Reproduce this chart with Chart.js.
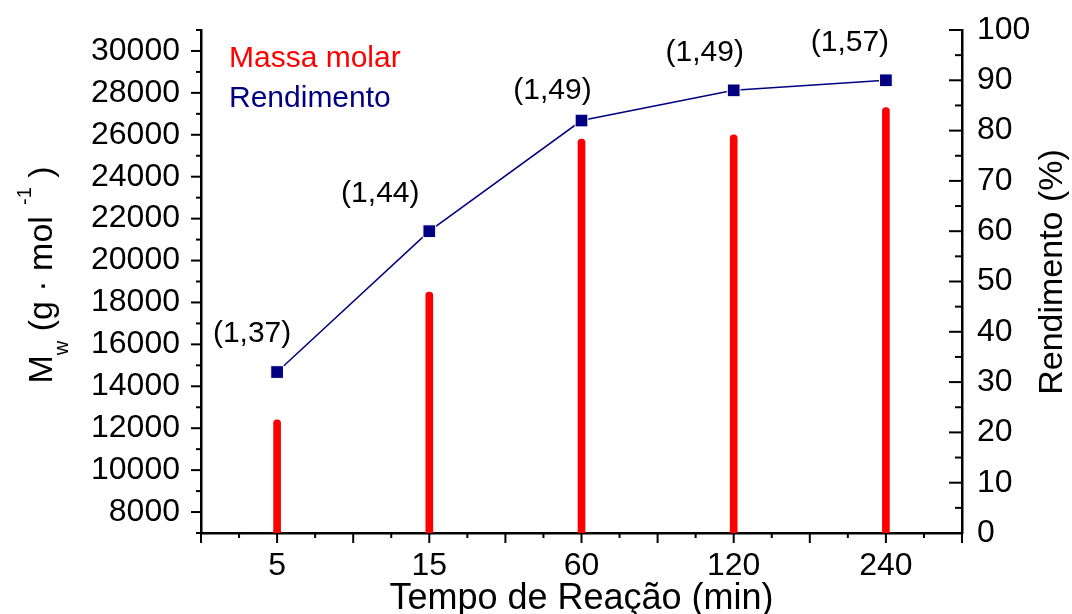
<!DOCTYPE html>
<html>
<head>
<meta charset="utf-8">
<script src="https://cdn.jsdelivr.net/npm/chart.js@4.4.1/dist/chart.umd.min.js"></script>
<style>
  html, body { margin: 0; padding: 0; background: #fff; }
  #box { width: 1072px; height: 614px; position: relative; }
</style>
</head>
<body>
<div id="box"><canvas id="grafico"></canvas></div>
<script>
// dados
const tempos = ['5', '15', '60', '120', '240'];            // min
const massaMolar = [12400, 18500, 25800, 26000, 27300];     // Mw (g/mol)
const rendimento = [32, 60, 82, 88, 90];                    // %
const dispersidade = ['(1,37)', '(1,44)', '(1,49)', '(1,49)', '(1,57)'];
const ticksMw = [8000, 10000, 12000, 14000, 16000, 18000, 20000, 22000, 24000, 26000, 28000, 30000];
const ticksRend = [0, 10, 20, 30, 40, 50, 60, 70, 80, 90, 100];

// deslocamento dos rótulos de dispersidade em relação ao ponto
const rotDx = [-25, -49, -29, -29, -36];
const rotDy = [-30, -29, -22, -29, -29];

const FONTE = "'Liberation Sans', Arial, sans-serif";
const VERMELHO = '#ff0000';
const AZUL = '#000080';

Chart.defaults.font.family = FONTE;
Chart.defaults.color = '#000';

function marcas(ctx, scale, passo, grande, pequeno, lado) {
  const a = scale.chart.chartArea;
  ctx.save();
  ctx.strokeStyle = '#000';
  ctx.lineWidth = 2;
  for (let v = scale.min; v <= scale.max + 1e-9; v += passo) {
    const maior = Math.abs(v / (passo * 2) - Math.round(v / (passo * 2))) < 1e-6;
    const len = maior ? grande : pequeno;
    const p = scale.getPixelForValue(v);
    ctx.beginPath();
    if (lado === 'esq') { ctx.moveTo(a.left - len, p); ctx.lineTo(a.left, p); }
    else if (lado === 'dir') { ctx.moveTo(a.right - len, p); ctx.lineTo(a.right, p); }
    else { ctx.moveTo(p, a.bottom); ctx.lineTo(p, a.bottom + len); }
    ctx.stroke();
  }
  ctx.restore();
}

// texto com partes em índice / expoente
function textoRico(ctx, partes) {
  let total = 0;
  partes.forEach(p => {
    ctx.font = p.size + 'px ' + FONTE;
    p.w = ctx.measureText(p.t).width;
    total += p.w;
  });
  let x = -total / 2;
  partes.forEach(p => {
    ctx.font = p.size + 'px ' + FONTE;
    ctx.fillText(p.t, x, p.dy || 0);
    x += p.w;
  });
}

// sem folga extra dos rótulos: a área do gráfico fica onde o layout manda
function semFolga(s) {
  s.paddingTop = 0;
  s.paddingBottom = 0;
  s.paddingLeft = 0;
  s.paddingRight = 0;
}

const extras = {
  id: 'extras',
  afterDraw(chart) {
    const ctx = chart.ctx;
    const a = chart.chartArea;

    // marcas dos eixos
    marcas(ctx, chart.scales.y, 1000, 10, 5, 'esq');
    marcas(ctx, chart.scales.y1, 5, 13, 7, 'dir');
    marcas(ctx, chart.scales.x, 0.25, 10, 5, 'baixo');

    ctx.save();
    ctx.textBaseline = 'alphabetic';

    // rótulos de dispersidade
    ctx.fillStyle = '#000';
    ctx.textAlign = 'center';
    ctx.font = '30px ' + FONTE;
    chart.getDatasetMeta(1).data.forEach((pt, i) => {
      ctx.fillText(dispersidade[i], pt.x + rotDx[i], pt.y + rotDy[i]);
    });

    // legenda
    ctx.textAlign = 'left';
    ctx.font = '30px ' + FONTE;
    ctx.fillStyle = VERMELHO;
    ctx.fillText(chart.data.datasets[0].label, 229, 67);
    ctx.fillStyle = AZUL;
    ctx.fillText(chart.data.datasets[1].label, 229, 107);

    // título do eixo x
    ctx.fillStyle = '#000';
    ctx.save();
    ctx.translate((a.left + a.right) / 2, 609);
    textoRico(ctx, [{ t: 'Tempo de Reação (min)', size: 36 }]);
    ctx.restore();

    // título do eixo y esquerdo
    ctx.save();
    ctx.translate(52, 275);
    ctx.rotate(-Math.PI / 2);
    textoRico(ctx, [
      { t: 'M', size: 34 },
      { t: 'w', size: 20, dy: 16 },
      { t: ' (g · mol', size: 34 },
      { t: '  -1', size: 20, dy: -21 },
      { t: ' )', size: 34 }
    ]);
    ctx.restore();

    // título do eixo y direito
    ctx.save();
    ctx.translate(1062, 272);
    ctx.rotate(-Math.PI / 2);
    textoRico(ctx, [{ t: 'Rendimento (%)', size: 34 }]);
    ctx.restore();

    ctx.restore();
  }
};

const ctx = document.getElementById('grafico');

new Chart(ctx, {
  type: 'bar',
  data: {
    datasets: [
      {
        label: 'Massa molar',
        data: massaMolar.map((v, i) => ({ x: i + 1, y: v })),
        backgroundColor: VERMELHO,
        barThickness: 7,
        borderRadius: { topLeft: 3.5, topRight: 3.5, bottomLeft: 0, bottomRight: 0 },
        borderSkipped: 'start',
        yAxisID: 'y',
        order: 2
      },
      {
        type: 'line',
        label: 'Rendimento',
        data: rendimento.map((v, i) => ({ x: i + 1, y: v })),
        borderColor: AZUL,
        borderWidth: 1.5,
        backgroundColor: AZUL,
        pointStyle: 'rect',
        pointRadius: 9,
        pointBorderColor: '#fff',
        pointBorderWidth: 1,
        pointBackgroundColor: AZUL,
        tension: 0,
        fill: false,
        yAxisID: 'y1',
        order: 1
      }
    ]
  },
  options: {
    responsive: true,
    maintainAspectRatio: false,
    animation: false,
    layout: { padding: { top: 30, left: 0, right: 0, bottom: 0 } },
    plugins: {
      legend: { display: false },
      tooltip: { enabled: false }
    },
    scales: {
      x: {
        type: 'linear',
        offset: false,
        min: 0.5,
        max: 5.5,
        grid: { display: false, drawTicks: false, offset: false },
        border: { display: true, color: '#000', width: 2.5 },
        afterBuildTicks: s => { s.ticks = tempos.map((_, i) => ({ value: i + 1 })); },
        afterFit: s => { s.height = 81; semFolga(s); },
        ticks: {
          autoSkip: false,
          maxRotation: 0,
          padding: 14,
          font: { size: 32 },
          color: '#000',
          callback: v => tempos[v - 1]
        }
      },
      y: {
        type: 'linear',
        position: 'left',
        min: 7000,
        max: 31000,
        grid: { display: false, drawTicks: false },
        border: { display: true, color: '#000', width: 2.5 },
        afterBuildTicks: s => { s.ticks = ticksMw.map(v => ({ value: v })); },
        afterFit: s => { s.width = 201; semFolga(s); },
        ticks: {
          padding: 21,
          font: { size: 32 },
          color: '#000',
          callback: v => String(v)
        }
      },
      y1: {
        type: 'linear',
        position: 'right',
        min: 0,
        max: 100,
        grid: { display: false, drawTicks: false },
        border: { display: true, color: '#000', width: 2.5 },
        afterBuildTicks: s => { s.ticks = ticksRend.map(v => ({ value: v })); },
        afterFit: s => { s.width = 110; semFolga(s); },
        ticks: {
          padding: 15,
          font: { size: 32 },
          color: '#000',
          callback: v => String(v)
        }
      }
    }
  },
  plugins: [extras]
});
</script>
</body>
</html>
